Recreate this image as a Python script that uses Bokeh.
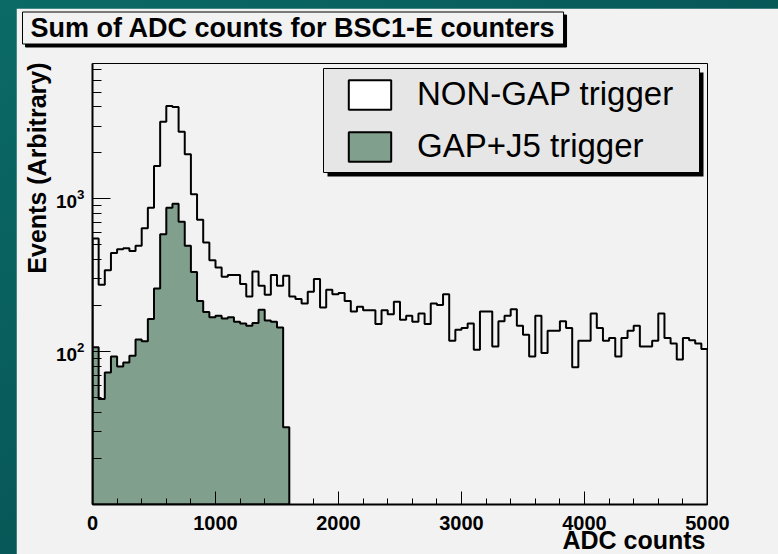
import numpy as np
from bokeh.plotting import figure
from bokeh.models import (FixedTicker, LogTickFormatter, BoxAnnotation,
                          Legend, LegendItem, Title)
from bokeh.embed import file_html
from bokeh.resources import INLINE

# ---------------- data ----------------
bin_width = 50
x_start = 0
nongap_counts = [550, 274, 342, 442, 469, 476, 457, 493, 643, 877,
                 1644, 3200, 4055, 3990, 2755, 1958, 1073, 730, 518, 397,
                 356, 309, 318, 318, 277, 230, 335, 270, 236, 318,
                 270, 314, 230, 221, 207, 247, 299, 195, 254, 238,
                 242, 215, 183, 197, 187, 187, 152, 187, 176, 212,
                 162, 172, 157, 178, 152, 207, 202, 238, 118, 139,
                 143, 153, 103, 183, 183, 108, 158, 172, 190, 148,
                 129, 93, 172, 98, 137, 137, 158, 143, 79, 118,
                 118, 178, 143, 118, 123, 93, 123, 137, 148, 108,
                 108, 118, 178, 123, 113, 89, 123, 119, 113, 104]
gap_j5_counts = [107, 49, 73, 93, 80, 85, 94, 120, 117, 164,
                 259, 588, 877, 931, 708, 493, 333, 215, 182, 168,
                 172, 165, 168, 157, 153, 148, 154, 188, 160, 157,
                 144, 32]
y_floor = 10
y_top = 7700
x_end = 5000
x_major_ticks = [0, 1000, 2000, 3000, 4000, 5000]
x_minor_ticks = list(range(0, 5001, 200))
y_major_ticks = [100, 1000]
y_minor_ticks = [20, 30, 40, 50, 60, 70, 80, 90,
                 200, 300, 400, 500, 600, 700, 800, 900,
                 2000, 3000, 4000, 5000, 6000, 7000]
title_text = "Sum of ADC counts for BSC1-E counters"
x_title = "ADC counts"
y_title = "Events (Arbitrary)"
legend_labels = ["NON-GAP trigger", "GAP+J5 trigger"]

# ---------------- styles ----------------
BG = "#f2f2f2"
GREEN = "#809f8d"
FONT = "Liberation Sans"


def edges_of(counts):
    return x_start + bin_width * np.arange(len(counts) + 1)


def step_outline(counts):
    c = np.asarray(counts, dtype=float)
    xs = np.repeat(edges_of(counts), 2)
    ys = np.concatenate([[y_floor], np.repeat(c, 2), [y_floor]])
    return xs, ys


p = figure(width=762, height=546, y_axis_type="log",
           x_range=(x_start, x_end), y_range=(y_floor, y_top),
           output_backend="svg", toolbar_location=None,
           min_border_left=76, min_border_right=71,
           min_border_top=55, min_border_bottom=50,
           background_fill_color=BG, border_fill_color=BG)
p.grid.visible = False
p.outline_line_color = "black"
p.outline_line_width = 1

# histograms
xs, ys = step_outline(nongap_counts)
p.line(xs, ys, line_color="black", line_width=2)
xs, ys = step_outline(gap_j5_counts)
r_gj = p.patch(xs, ys, fill_color=GREEN, line_color="black", line_width=2)

# axes
xa = p.xaxis[0]
xa.ticker = FixedTicker(ticks=x_major_ticks, minor_ticks=x_minor_ticks)
xa.major_tick_in = 13
xa.major_tick_out = 0
xa.minor_tick_in = 6
xa.minor_tick_out = 0
xa.axis_line_width = 2
xa.major_label_text_font = FONT
xa.major_label_text_font_style = "bold"
xa.major_label_text_font_size = "20px"
xa.major_label_text_color = "black"
xa.major_label_standoff = 11

ya = p.yaxis[0]
ya.ticker = FixedTicker(ticks=y_major_ticks, minor_ticks=y_minor_ticks)
ya.formatter = LogTickFormatter()
ya.major_tick_in = 18
ya.major_tick_out = 0
ya.minor_tick_in = 9
ya.minor_tick_out = 0
ya.axis_line_width = 2
ya.major_label_text_font = FONT
ya.major_label_text_font_style = "bold"
ya.major_label_text_font_size = "19px"
ya.major_label_text_color = "black"
ya.major_label_standoff = 8

text_kw = dict(text_font=FONT, text_font_style="bold")

# axis titles, aligned to the far ends of the axes (ROOT style)
p.add_layout(Title(text=x_title, align="right", vertical_align="bottom",
                   offset=2, standoff=-17, text_font_size="25px",
                   text_color="black", **text_kw), "below")
p.add_layout(Title(text=y_title, align="right", vertical_align="top",
                   offset=-1, standoff=0, text_font_size="25px",
                   text_color="black", **text_kw), "left")

# title box with a drop shadow; spacer keeps it above the frame
has_padding = "padding" in Title.properties()
p.add_layout(Title(text=" ", text_font_size="1px", standoff=30), "above")
shadow_title = Title(text=title_text, align="left", vertical_align="bottom",
                     offset=-67, standoff=-33, text_font_size="27px",
                     text_color="black", background_fill_color="black",
                     border_line_color="black", border_line_width=1, **text_kw)
main_title = Title(text=title_text, align="left", vertical_align="top",
                   offset=-70, standoff=-33, text_font_size="27px",
                   text_color="black", background_fill_color=BG,
                   border_line_color="black", border_line_width=1, **text_kw)
if has_padding:
    shadow_title.padding = dict(top=1, bottom=1, left=8, right=8)
    main_title.padding = dict(top=1, bottom=1, left=8, right=8)
p.add_layout(shadow_title, "above")
p.add_layout(main_title, "above")

# legend box + shadow (frame-relative screen units)
shadow = BoxAnnotation(left=235, right=611, top=432, bottom=328,
                       left_units="screen", right_units="screen",
                       top_units="screen", bottom_units="screen",
                       fill_color="black", fill_alpha=1, line_color=None)
box = BoxAnnotation(left=231, right=607, top=436, bottom=332,
                    left_units="screen", right_units="screen",
                    top_units="screen", bottom_units="screen",
                    fill_color="#e6e6e6", fill_alpha=1,
                    line_color="black", line_width=1, line_alpha=1)
p.add_layout(shadow)
p.add_layout(box)

# legend-only swatch for the unfilled histogram (NaN -> draws nothing)
r_ng = p.quad(left=[np.nan], right=[np.nan], top=[np.nan], bottom=[np.nan],
              fill_color="white", line_color="black", line_width=2)
legend = Legend(items=[LegendItem(label=legend_labels[0], renderers=[r_ng]),
                       LegendItem(label=legend_labels[1], renderers=[r_gj])],
                location=(242, 330), padding=9, spacing=14, margin=0,
                glyph_width=53, glyph_height=37, label_standoff=21,
                label_text_font=FONT, label_text_font_size="33px",
                label_text_color="black",
                background_fill_alpha=0, border_line_alpha=0)
p.add_layout(legend)

html = file_html(p, INLINE, title=title_text)
style = ("<style>html{background:linear-gradient(to bottom right,#0b6a66,#03474a);"
         "min-height:100%}body{margin:8px 0 0 16px;overflow:hidden}</style>")
html = html.replace("</head>", style + "</head>", 1)
open("out.html", "w").write(html)
